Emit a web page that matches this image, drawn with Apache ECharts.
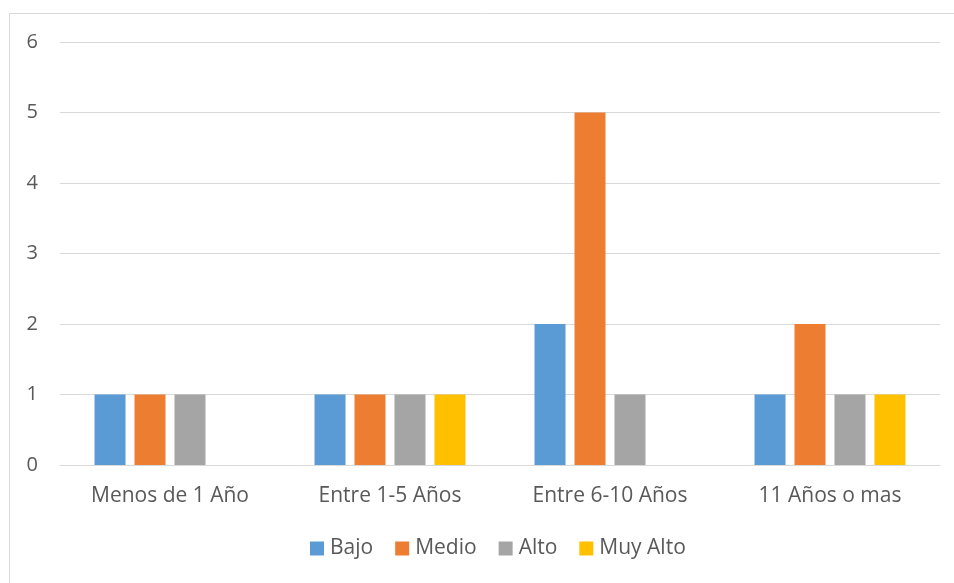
<!DOCTYPE html>
<html><head><meta charset="utf-8">
<script src="https://cdn.jsdelivr.net/npm/echarts@6/dist/echarts.min.js"></script>
<style>html,body{margin:0;padding:0;background:#fff}#c{width:954px;height:583px}</style>
</head><body><div id="c"></div>
<script>
const categories = ["Menos de 1 Año", "Entre 1-5 Años", "Entre 6-10 Años", "11 Años o mas"];
const seriesNames = ["Bajo", "Medio", "Alto", "Muy Alto"];
const bajo = [1, 1, 2, 1];
const medio = [1, 1, 5, 2];
const alto = [1, 1, 1, 1];
const muyAlto = [0, 1, 0, 1];
const yTicks = [0, 1, 2, 3, 4, 5, 6];
const colors = ["#5b9bd5", "#ed7d31", "#a5a5a5", "#ffc000"];
const values = [bajo, medio, alto, muyAlto];
const font = "'Open Sans', 'Liberation Sans', sans-serif";

const chart = echarts.init(document.getElementById('c'), null, {renderer: 'canvas'});
chart.setOption({
  animation: false,
  backgroundColor: '#fff',
  graphic: [{type: 'rect', shape: {x: 9.5, y: 13.5, width: 980, height: 620}, style: {fill: 'none', stroke: '#d9d9d9', lineWidth: 1}, silent: true}],
  grid: {left: 60, right: 14, top: 42, bottom: 118},
  legend: {
    bottom: 19, left: 305, itemWidth: 14, itemHeight: 14, itemGap: 22,
    icon: 'rect',
    textStyle: {color: '#595959', fontSize: 21, fontFamily: font, padding: [0, 0, 0, 1]},
    data: seriesNames
  },
  xAxis: {
    type: 'category', data: categories,
    axisLine: {lineStyle: {color: '#d9d9d9', width: 1}},
    axisTick: {show: false},
    axisLabel: {color: '#595959', fontSize: 21, fontFamily: font, margin: 21}
  },
  yAxis: {
    type: 'value', min: yTicks[0], max: yTicks[yTicks.length - 1], interval: 1,
    axisLine: {show: false}, axisTick: {show: false},
    splitLine: {lineStyle: {color: '#d9d9d9', width: 1}},
    axisLabel: {color: '#595959', fontSize: 20, fontFamily: font, margin: 22}
  },
  series: seriesNames.map((n, i) => ({
    name: n, type: 'bar', data: values[i],
    barWidth: 31, barGap: '29%',
    itemStyle: {color: colors[i]}
  }))
});
</script></body></html>
